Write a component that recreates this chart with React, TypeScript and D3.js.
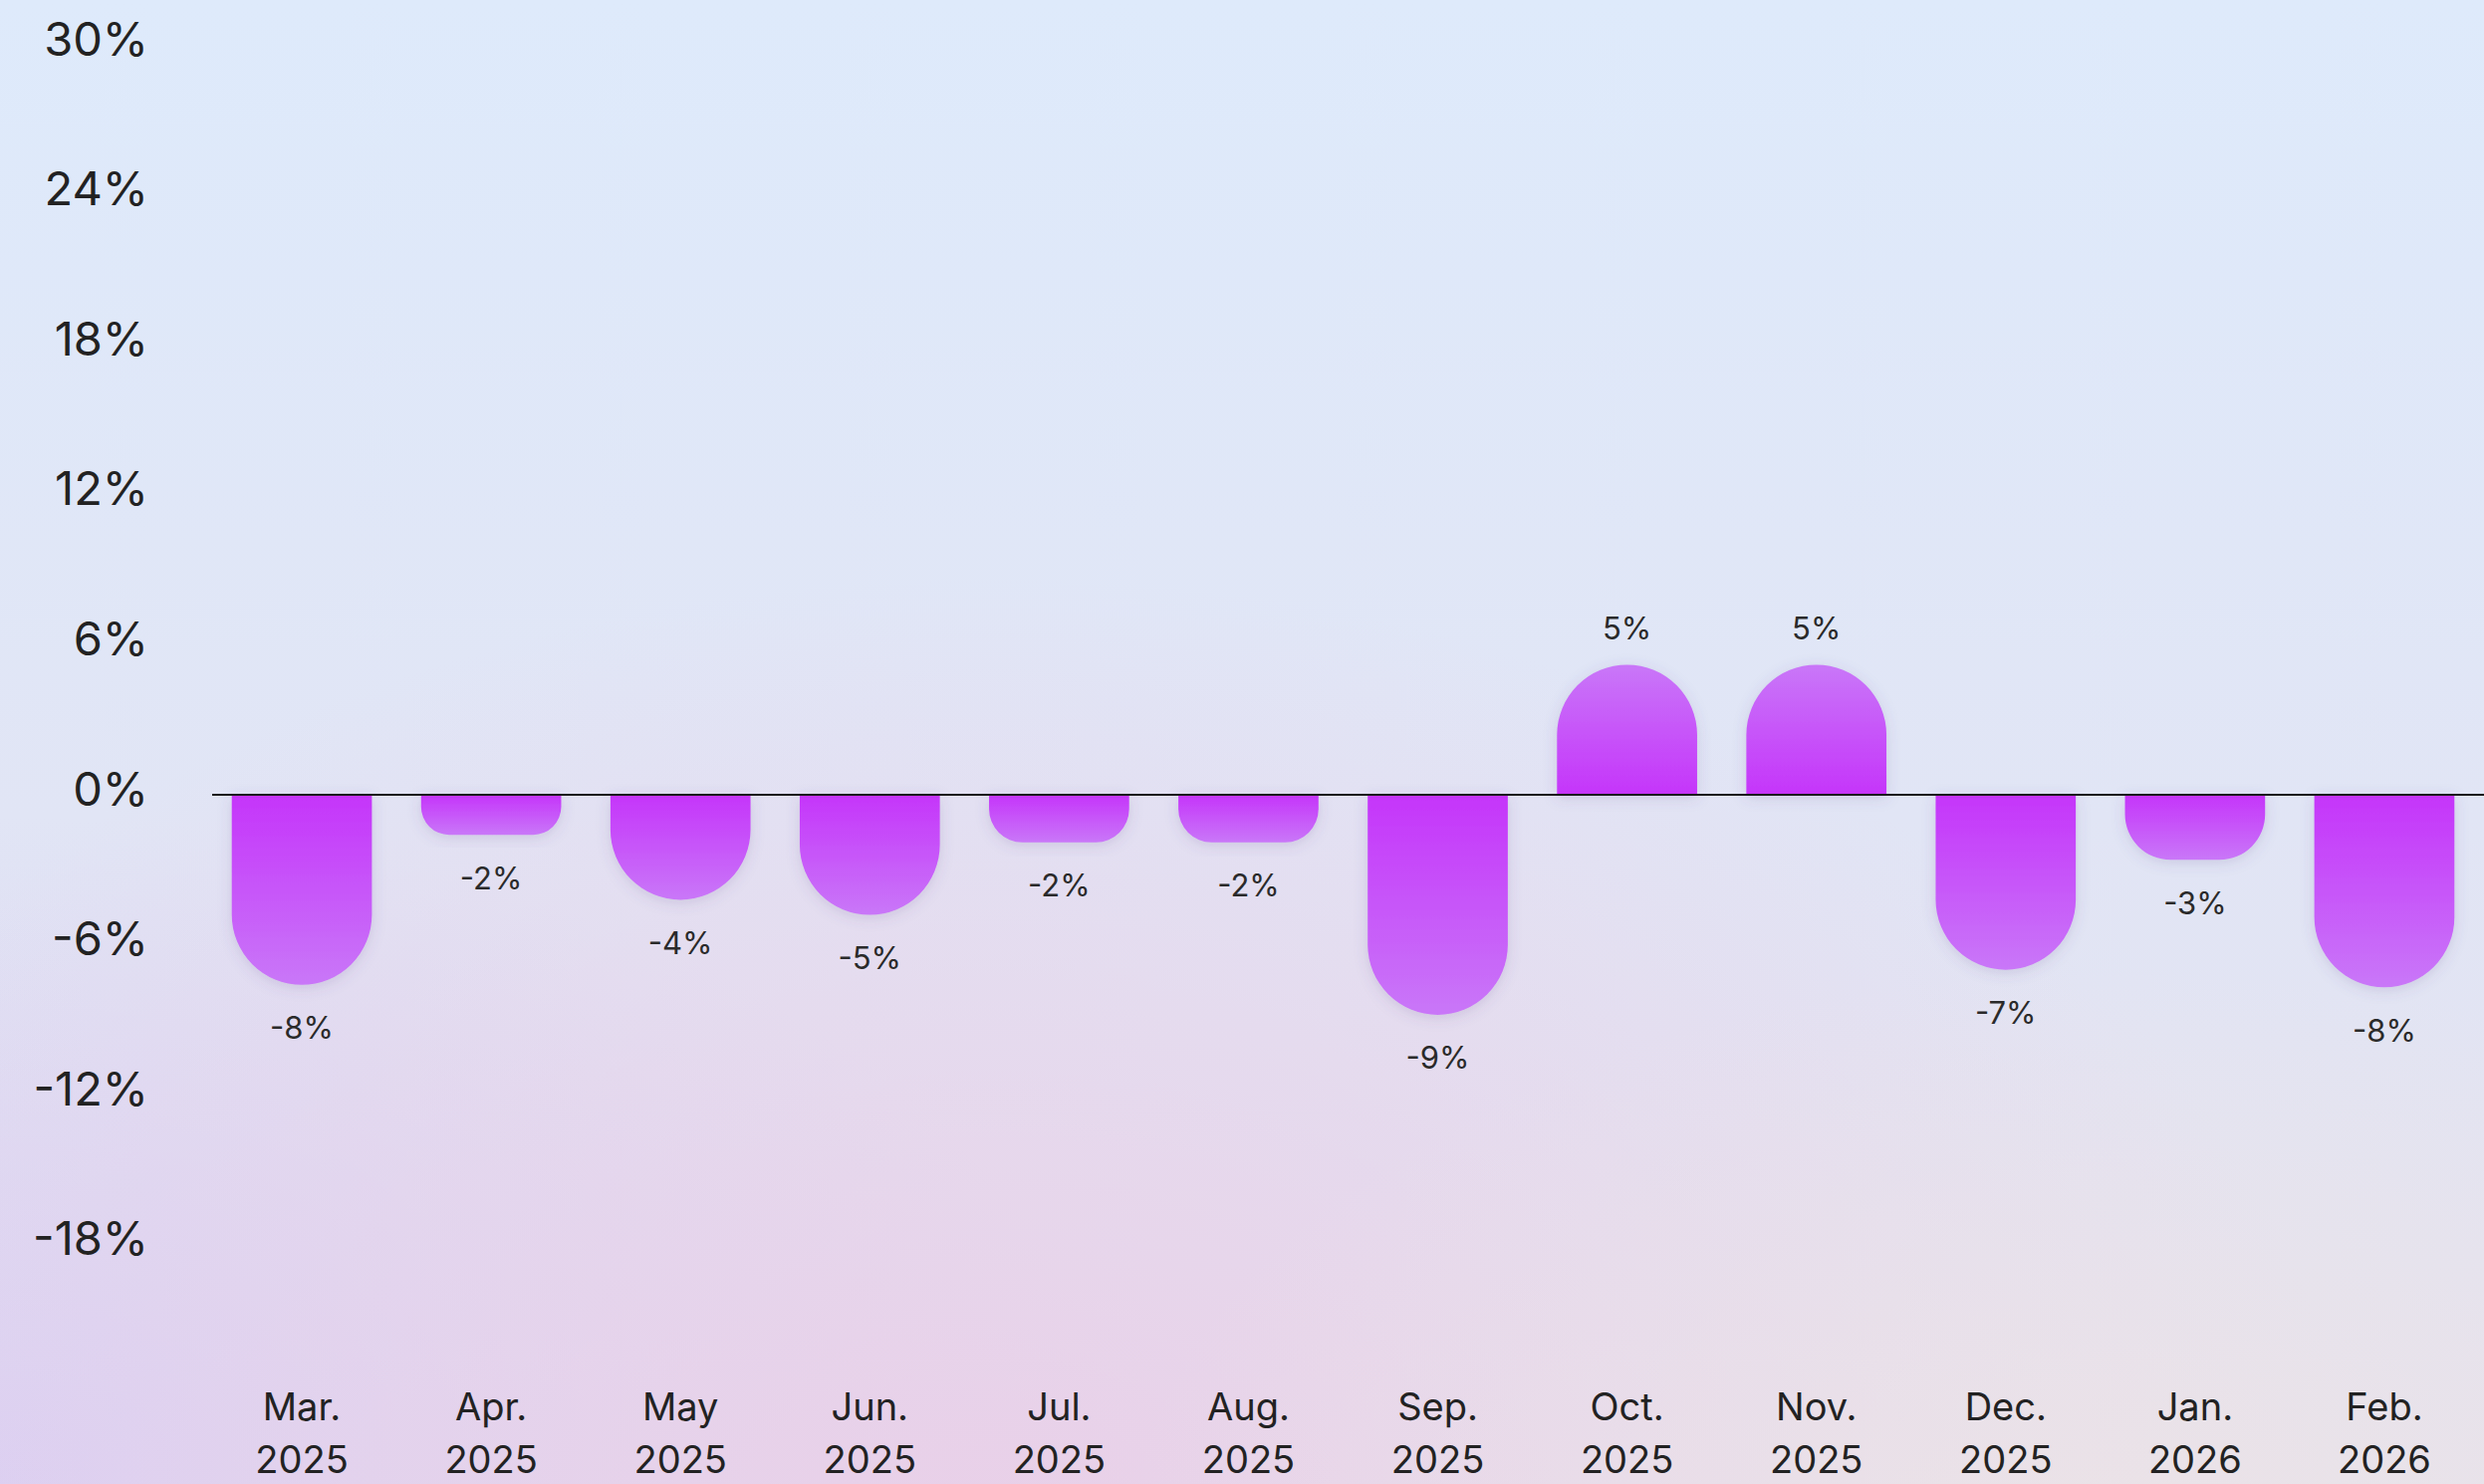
import React from "react";
import { scaleBand, scaleLinear } from "d3";

const months = ["Mar.", "Apr.", "May", "Jun.", "Jul.", "Aug.", "Sep.", "Oct.", "Nov.", "Dec.", "Jan.", "Feb."];
const years = ["2025", "2025", "2025", "2025", "2025", "2025", "2025", "2025", "2025", "2025", "2026", "2026"];
const changes = [-7.6, -1.6, -4.2, -4.8, -1.9, -1.9, -8.8, 5.2, 5.2, -7.0, -2.6, -7.7];
const yTicks = [30, 24, 18, 12, 6, 0, -6, -12, -18];

const FONT = "Inter, 'Noto Sans', sans-serif";

const barPath = (x0: number, w: number, yBase: number, yTip: number) => {
  const h = Math.abs(yTip - yBase);
  const r = Math.min(w / 2, h * 0.7);
  const x1 = x0 + w;
  if (yTip > yBase) {
    // negative bar, rounded at the bottom
    return `M${x0},${yBase}H${x1}V${yTip - r}A${r},${r} 0 0 1 ${x1 - r},${yTip}H${x0 + r}A${r},${r} 0 0 1 ${x0},${yTip - r}Z`;
  }
  return `M${x0},${yBase}V${yTip + r}A${r},${r} 0 0 1 ${x0 + r},${yTip}H${x1 - r}A${r},${r} 0 0 1 ${x1},${yTip + r}V${yBase}Z`;
};

export const App = () => {
  const width = 2494;
  const height = 1490;

  const xScale = scaleBand<string>()
    .domain(months)
    .range([208, 2489])
    .paddingInner(0.26)
    .paddingOuter(0.13);

  const yScale = scaleLinear().domain([-24, 30]).range([1400.4, 45]);
  const y0 = yScale(0);

  return (
    <svg
      width={width}
      height={height}
      style={{ position: "absolute", left: 0, top: 0, display: "block" }}
    >
      <defs>
        <linearGradient id="bgBase" x1="0" y1="0" x2="0" y2="1">
          <stop offset="0" stopColor="#deeafb" />
          <stop offset="0.55" stopColor="#e1e5f5" />
          <stop offset="1" stopColor="#e4e2ef" />
        </linearGradient>
        <radialGradient id="bgPink" cx="0.4" cy="1.05" r="0.55" gradientTransform="translate(0.4 1.05) scale(1 1.2) translate(-0.4 -1.05)">
          <stop offset="0" stopColor="#e9cfe8" stopOpacity="1" />
          <stop offset="1" stopColor="#e9cfe8" stopOpacity="0" />
        </radialGradient>
        <radialGradient id="bgLav" cx="0" cy="1" r="0.45">
          <stop offset="0" stopColor="#d8d0f4" stopOpacity="1" />
          <stop offset="1" stopColor="#d8d0f4" stopOpacity="0" />
        </radialGradient>
        <radialGradient id="bgWarm" cx="0.85" cy="1.05" r="0.4">
          <stop offset="0" stopColor="#ece3e6" stopOpacity="0.9" />
          <stop offset="1" stopColor="#ece3e6" stopOpacity="0" />
        </radialGradient>
        <linearGradient id="negGrad" x1="0" y1="0" x2="0" y2="1">
          <stop offset="0" stopColor="#c535fa" />
          <stop offset="1" stopColor="#c977f8" />
        </linearGradient>
        <linearGradient id="posGrad" x1="0" y1="0" x2="0" y2="1">
          <stop offset="0" stopColor="#c977f8" />
          <stop offset="1" stopColor="#c535fa" />
        </linearGradient>
        <filter id="barShadow" x="-30%" y="-30%" width="160%" height="160%">
          <feDropShadow dx="0" dy="3" stdDeviation="7" floodColor="#5a4a8a" floodOpacity="0.18" />
        </filter>
      </defs>

      <rect width={width} height={height} fill="url(#bgBase)" />
      <rect width={width} height={height} fill="url(#bgLav)" />
      <rect width={width} height={height} fill="url(#bgPink)" />
      <rect width={width} height={height} fill="url(#bgWarm)" />

      {/* y axis labels */}
      {yTicks.map((t) => (
        <text
          key={t}
          x={149}
          y={yScale(t) - 7}
          textAnchor="end"
          dominantBaseline="central"
          fontFamily={FONT}
          fontSize={47}
          fill="#222"
        >
          {`${t}%`}
        </text>
      ))}

      {/* bars */}
      {changes.map((v, i) => {
        const x = xScale(months[i]) as number;
        const w = xScale.bandwidth();
        return (
          <path
            key={months[i]}
            d={barPath(x, w, y0, yScale(v))}
            fill={v < 0 ? "url(#negGrad)" : "url(#posGrad)"}
            filter="url(#barShadow)"
          />
        );
      })}

      {/* zero line */}
      <line x1={213} x2={2494} y1={y0} y2={y0} stroke="#1a1a1a" strokeWidth={2} />

      {/* value labels */}
      {changes.map((v, i) => {
        const cx = (xScale(months[i]) as number) + xScale.bandwidth() / 2;
        const ly = v < 0 ? yScale(v) + 43 : yScale(v) - 37;
        return (
          <text
            key={`lbl-${i}`}
            x={cx}
            y={ly}
            textAnchor="middle"
            dominantBaseline="central"
            fontFamily={FONT}
            fontSize={31}
            fill="#2a2a2a"
          >
            {`${Math.round(v)}%`}
          </text>
        );
      })}

      {/* x axis labels */}
      {months.map((m, i) => {
        const cx = (xScale(m) as number) + xScale.bandwidth() / 2;
        return (
          <g key={`x-${m}`} fontFamily={FONT} fontSize={38} fill="#222" textAnchor="middle">
            <text x={cx} y={1412} dominantBaseline="central">
              {m}
            </text>
            <text x={cx} y={1465} dominantBaseline="central">
              {years[i]}
            </text>
          </g>
        );
      })}
    </svg>
  );
};

export default App;
